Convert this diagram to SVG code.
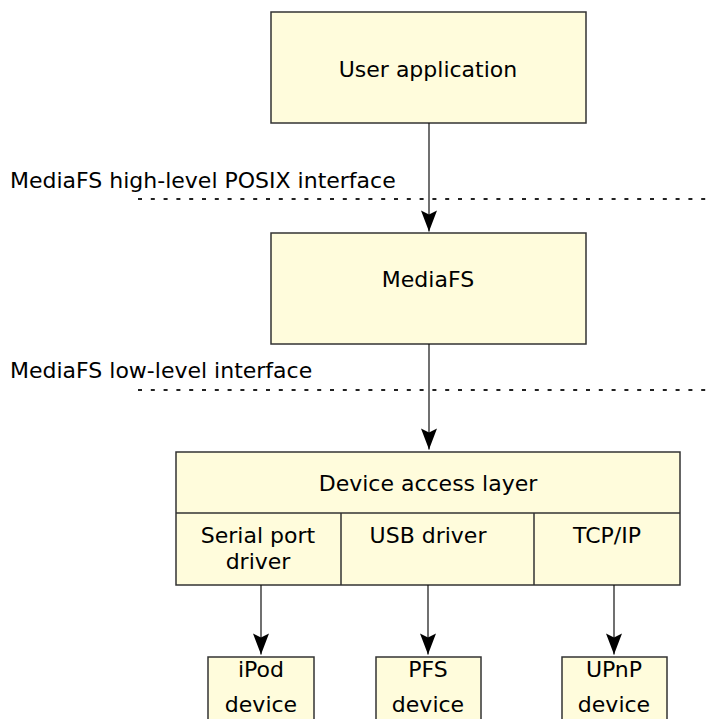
<svg xmlns="http://www.w3.org/2000/svg" width="708" height="719" viewBox="0 0 708 719">
<style>
.box{fill:#fffcdc;stroke:#333;stroke-width:1.5}
.t{font-family:"DejaVu Sans",Verdana,sans-serif;font-size:22px;fill:#000;text-anchor:middle}
.l{font-family:"DejaVu Sans",Verdana,sans-serif;font-size:22px;fill:#000}
.c{stroke:#111;stroke-width:1.2;fill:none}
.d{stroke:#222;stroke-width:2;stroke-dasharray:4 8.8;fill:none}
</style>
<defs>
<marker id="ah" viewBox="-22 -9 23 18" refX="0" refY="0" markerWidth="23" markerHeight="18" markerUnits="userSpaceOnUse" orient="auto">
<path d="M-21,-8 L-17,0 L-21,8 L0,0 Z" fill="#000"/>
</marker>
</defs>
<g id="labels">
<text class="l" x="10" y="188">MediaFS high-level POSIX interface</text>
<line class="d" x1="138" y1="199" x2="708" y2="199"/>
<text class="l" x="10" y="378">MediaFS low-level interface</text>
<line class="d" x1="138" y1="390" x2="708" y2="390"/>
</g>
<g id="user-app">
<rect class="box" x="271" y="12" width="315" height="111"/>
<text class="t" x="428" y="77">User application</text>
</g>
<g id="mediafs">
<rect class="box" x="271" y="233" width="315" height="111"/>
<text class="t" x="428" y="287">MediaFS</text>
</g>
<g id="device-access-layer">
<rect class="box" x="176" y="452" width="504" height="133"/>
<line class="box" x1="176" y1="513" x2="680" y2="513"/>
<line class="box" x1="341" y1="513" x2="341" y2="585"/>
<line class="box" x1="534" y1="513" x2="534" y2="585"/>
<text class="t" x="428" y="491">Device access layer</text>
</g>
<g id="serial">
<text class="t" x="258" y="543">Serial port</text>
<text class="t" x="258" y="569">driver</text>
</g>
<g id="usb">
<text class="t" x="428" y="543">USB driver</text>
</g>
<g id="tcpip">
<text class="t" x="607" y="543">TCP/IP</text>
</g>
<g id="ipod">
<rect class="box" x="208" y="657" width="106" height="70"/>
<text class="t" x="261" y="677">iPod</text>
<text class="t" x="261" y="712">device</text>
</g>
<g id="pfs">
<rect class="box" x="376" y="657" width="105" height="70"/>
<text class="t" x="428" y="677">PFS</text>
<text class="t" x="428" y="712">device</text>
</g>
<g id="upnp">
<rect class="box" x="562" y="657" width="105" height="70"/>
<text class="t" x="614" y="677">UPnP</text>
<text class="t" x="614" y="712">device</text>
</g>
<g id="connectors">
<line class="c" x1="429" y1="123" x2="429" y2="231.5" marker-end="url(#ah)"/>
<line class="c" x1="429" y1="344" x2="429" y2="449.5" marker-end="url(#ah)"/>
<line class="c" x1="261" y1="585" x2="261" y2="654.5" marker-end="url(#ah)"/>
<line class="c" x1="428" y1="585" x2="428" y2="654.5" marker-end="url(#ah)"/>
<line class="c" x1="614" y1="585" x2="614" y2="654.5" marker-end="url(#ah)"/>
</g>
</svg>
